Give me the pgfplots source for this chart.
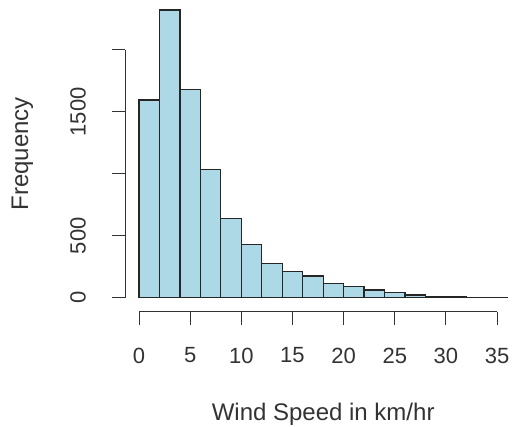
\documentclass[border=0pt]{standalone}
\usepackage{fontspec}
\setmainfont{Liberation Sans}
\usepackage{pgfplots}
\pgfplotsset{compat=1.18}
\definecolor{rlightblue}{HTML}{ADD8E6}
\definecolor{axisgray}{HTML}{333333}

\pgfplotstableread{
left count
0  1595
2  2322
4  1682
6  1036
8  641
10 431
12 278
14 212
16 175
18 116
20 89
22 62
24 44
26 22
28 10
30 8
32 4
34 3
36 3
}\windtable

\begin{document}
\begin{tikzpicture}
\begin{axis}[
    x=5.115pt, y=0.06196pt,
    xmin=-1.37, xmax=36.46,
    ymin=-113, ymax=2402,
    axis x line*=bottom, axis y line*=left,
    axis line style={draw=none},
    clip=false,
    tick align=outside,
    major tick length=6.5pt,
    every tick/.style={axisgray, line width=0.5pt},
    xtick={0,5,...,35},
    xticklabels={0,5,10,15,20,25,30,35},
    ytick={0,500,1000,1500,2000},
    yticklabels={0,500,,1500,},
    /pgf/number format/assume math mode=true,
    tick label style={font=\fontsize{11}{13}\selectfont, text=axisgray},
    xticklabel style={anchor=north},
    xticklabel shift=8pt,
    yticklabel style={rotate=90, anchor=south},
    yticklabel shift=9.5pt,
]
\addplot[ybar interval, fill=rlightblue, draw=black!85, line width=0.6pt]
    table[x=left, y=count] {\windtable};
\draw[axisgray, line width=0.5pt] (axis cs:0,-113) -- (axis cs:35,-113);
\draw[axisgray, line width=0.5pt] (axis cs:-1.37,0) -- (axis cs:-1.37,2000);
\node[font=\fontsize{12}{14}\selectfont, text=axisgray] at (axis cs:18,-940) {Wind Speed in km/hr};
\node[font=\fontsize{12}{14}\selectfont, text=axisgray, rotate=90] at (axis cs:-11.4,1161) {Frequency};
\coordinate (bbl) at (axis cs:-13.59,-1043);
\coordinate (btr) at (axis cs:36.46,2402);
\end{axis}
\pgfresetboundingbox
\path[use as bounding box] (bbl) rectangle (btr);
\end{tikzpicture}
\end{document}
